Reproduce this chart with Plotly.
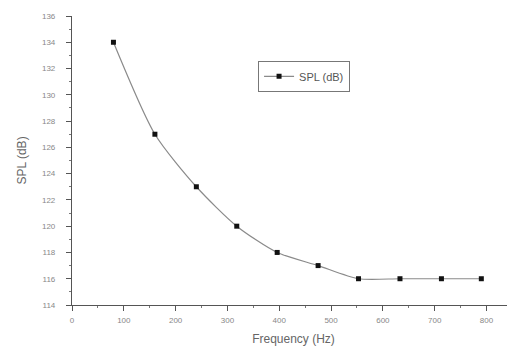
import plotly.graph_objects as go

freq = [80, 160, 240, 318, 396, 475, 553, 633, 713, 790]
spl = [134, 127, 123, 120, 118, 117, 116, 116, 116, 116]
x_ticks = [0, 100, 200, 300, 400, 500, 600, 700, 800]
y_ticks = [114, 116, 118, 120, 122, 124, 126, 128, 130, 132, 134, 136]

fig = go.Figure()
fig.add_trace(go.Scatter(
    x=freq, y=spl, mode="lines+markers", name="SPL (dB)",
    line=dict(color="#8a8a8a", width=1.2, shape="spline", smoothing=0.7),
    marker=dict(symbol="square", size=5, color="#111111"),
))

axis_common = dict(
    showgrid=False, zeroline=False, showline=True, linecolor="#555555", linewidth=1.2,
    ticks="outside", ticklen=5, tickcolor="#555555", automargin=False,
    tickfont=dict(family="Liberation Sans, Arial", size=8, color="#888888"),
    minor=dict(ticks="outside", ticklen=2, tickcolor="#777777"),
)

fig.update_xaxes(range=[0, 855], tickvals=x_ticks, **axis_common, ticklabelstandoff=2,
                 title=dict(text="Frequency (Hz)", font=dict(family="Liberation Sans, Arial", size=12, color="#666666"), standoff=10))
fig.update_yaxes(range=[114, 136], tickvals=y_ticks, **axis_common, ticklabelstandoff=9,
                 title=dict(text="SPL (dB)", font=dict(family="Liberation Sans, Arial", size=12, color="#666666"), standoff=12))
fig.update_xaxes(minor=dict(dtick=50))
fig.update_yaxes(minor=dict(dtick=1))

fig.update_layout(
    width=507, height=339,
    margin=dict(l=64, r=0, t=8, b=42),
    paper_bgcolor="white", plot_bgcolor="white",
    showlegend=True,
    legend=dict(x=0.42, y=0.845, xanchor="left", yanchor="top",
                bordercolor="#777777", borderwidth=1, bgcolor="white",
                font=dict(family="Liberation Sans, Arial", size=11, color="#555555"),
                itemwidth=30, tracegroupgap=0),
)

fig.write_html("out.html")
